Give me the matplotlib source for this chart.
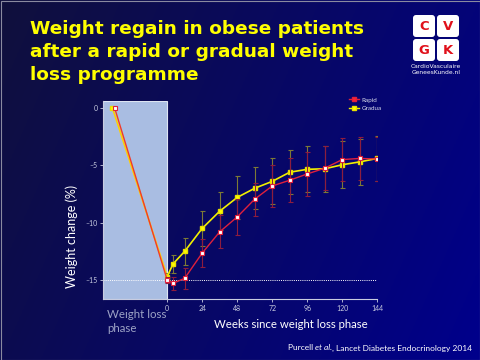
import numpy as np
import matplotlib.pyplot as plt
from matplotlib.patches import FancyBboxPatch, Rectangle
from matplotlib.lines import Line2D

# data
weeks = [0, 4, 12, 24, 36, 48, 60, 72, 84, 96, 108, 120, 132, 144]
gradual = [-14.7, -13.6, -12.5, -10.5, -9.0, -7.8, -7.0, -6.4, -5.6, -5.35, -5.3, -4.95, -4.7, -4.4]
gradual_err = [0.3, 0.8, 1.2, 1.5, 1.65, 1.9, 1.85, 2.0, 1.9, 2.0, 2.0, 2.05, 2.0, 2.0]
rapid = [-15.0, -15.3, -14.85, -12.65, -10.8, -9.5, -7.95, -6.8, -6.3, -5.75, -5.25, -4.5, -4.4, -4.45]
rapid_err = [0.3, 0.55, 0.9, 1.2, 1.45, 1.6, 1.45, 1.85, 1.9, 1.9, 1.9, 1.9, 1.85, 1.9]

# weight loss phase drawn before week 0 (start -> end)
pre_gradual_x = [-37.5, 0]
pre_gradual_y = [0, -14.7]
pre_rapid_x = [-36, 0]
pre_rapid_y = [0, -15.0]

xticks = [0, 24, 48, 72, 96, 120, 144]
yticks = [0, -5, -10, -15]
ytick_labels = ['0', '\u20135', '\u201310', '\u201315']

title_lines = ['Weight regain in obese patients',
               'after a rapid or gradual weight',
               'loss programme']

W, H = 480, 360
fig = plt.figure(figsize=(4.8, 3.6), dpi=100)

# background gradient
bg = fig.add_axes([0, 0, 1, 1], zorder=-10)
gx = np.linspace(0, 1, 200)
gy = np.linspace(0, 1, 150)
GX, GY = np.meshgrid(gx, gy)
t = np.clip(0.75 * GX + 0.25 * GY, 0, 1)
c0 = np.array([0x10, 0x10, 0x3c]) / 255
c1 = np.array([0x00, 0x00, 0x8c]) / 255
img = c0[None, None, :] * (1 - t[..., None]) + c1[None, None, :] * t[..., None]
bg.imshow(img, extent=[0, W, H, 0], aspect='auto')
bg.set_xlim(0, W)
bg.set_ylim(H, 0)
bg.axis('off')
bg.add_patch(Rectangle((0.5, 0.5), W - 1, H - 1, fill=False, ec='#8a8aa0', lw=0.8))

# title
for i, line in enumerate(title_lines):
    bg.text(30, 34 + 23 * i, line, color='#ffff00', fontsize=13.3, fontweight='bold',
            family='DejaVu Sans', va='baseline', ha='left')

# logo
for (lx, ly, letter) in [(413, 15, 'C'), (437, 15, 'V'), (413, 39, 'G'), (437, 39, 'K')]:
    bg.add_patch(FancyBboxPatch((lx, ly), 22, 22, boxstyle='round,pad=0,rounding_size=3',
                                fc='white', ec='none'))
    bg.text(lx + 11, ly + 11.5, letter, color='#e0101a', fontsize=9.5, fontweight='bold',
            ha='center', va='center', family='DejaVu Sans')
bg.text(436, 66, 'CardioVasculaire', color='white', fontsize=4.3, ha='center', va='center',
        family='Liberation Sans Narrow')
bg.text(436, 72, 'GeneesKunde.nl', color='white', fontsize=4.3, ha='center', va='center',
        family='Liberation Sans Narrow')

# main axes
ax = fig.add_axes([103 / W, 1 - 299 / H, (377.3 - 103) / W, (299 - 101) / H])
ax.patch.set_alpha(0)
ax.set_xlim(-44, 144)
ax.set_ylim(-16.66, 0.61)

ax.axvspan(-44, 0, fc='#a9bde2', ec='#dde4f2', lw=0.8, zorder=1)
ax.hlines(-15, -44, 144, colors='white', linestyles=(0, (1, 1.2)), lw=0.7, zorder=2)

# gradual
ax.plot(pre_gradual_x, pre_gradual_y, color='#ffd000', lw=1.2, zorder=3)
ax.errorbar(weeks, gradual, yerr=gradual_err, fmt='none', ecolor='#7d7a35', elinewidth=0.8,
            capsize=1.8, capthick=0.8, zorder=3)
ax.plot(weeks, gradual, color='#f2f000', lw=1.2, marker='s', ms=3.4, mfc='#ffff00',
        mec='#e8e000', zorder=4)
ax.plot(pre_gradual_x[0], pre_gradual_y[0], 's', ms=3.4, mfc='#ffff00', mec='#e8e000', zorder=4)

# rapid
ax.plot(pre_rapid_x, pre_rapid_y, color='#f03a2a', lw=1.0, zorder=5)
ax.errorbar(weeks, rapid, yerr=rapid_err, fmt='none', ecolor='#8e1c3e', elinewidth=0.8,
            capsize=1.8, capthick=0.8, zorder=5)
ax.plot(weeks, rapid, color='#e0203c', lw=1.0, marker='s', ms=3.4, mfc='white',
        mec='#e0203c', mew=0.8, zorder=6)
ax.plot(pre_rapid_x[0], pre_rapid_y[0], 's', ms=3.4, mfc='white', mec='#e0203c', mew=0.8, zorder=6)

for s in ['top', 'right']:
    ax.spines[s].set_visible(False)
for s in ['left', 'bottom']:
    ax.spines[s].set_color('#c8cce0')
    ax.spines[s].set_linewidth(0.8)

ax.set_xticks(xticks)
ax.set_yticks(yticks)
ax.set_yticklabels(ytick_labels)
ax.tick_params(axis='both', colors='#c8cce0', labelsize=5, length=2, width=0.6, pad=2)
for lab in ax.get_xticklabels() + ax.get_yticklabels():
    lab.set_family('Lato')

handles = [Line2D([], [], color='#e0203c', marker='s', ms=3, mfc='#ff2030', mec='#e0203c', lw=1),
           Line2D([], [], color='#f2f000', marker='s', ms=3, mfc='#ffff00', mec='#e8e000', lw=1)]
leg = ax.legend(handles, ['Rapid', 'Gradua'], loc='upper left', bbox_to_anchor=(0.885, 1.035),
                frameon=False, fontsize=4.5, handlelength=1.6, handletextpad=0.4,
                labelspacing=0.5, borderpad=0)
for txt in leg.get_texts():
    txt.set_color('#d8dcec')
    txt.set_family('Lato')

# labels
bg.text(72, 236, 'Weight change (%)', color='white', fontsize=9, rotation=90,
        ha='center', va='center', family='Lato')
bg.text(291, 325, 'Weeks since weight loss phase', color='white', fontsize=8.2,
        ha='center', va='center', family='Lato')
bg.text(107, 315, 'Weight loss', color='#9da3c6', fontsize=8.3, ha='left', va='center',
        family='Lato')
bg.text(107, 329, 'phase', color='#9da3c6', fontsize=8.3, ha='left', va='center',
        family='Lato')

# citation: plain + italic + plain, placed right to left
renderer = fig.canvas.get_renderer()
x_right = 472
for piece, style in [(', Lancet Diabetes Endocrinology 2014', 'normal'), ('et al.', 'italic'),
                     ('Purcell ', 'normal')]:
    tt = bg.text(x_right, 348, piece, color='white', fontsize=6, ha='right', va='center',
                 family='Lato', style=style)
    bb = tt.get_window_extent(renderer)
    x_right -= bb.width

fig.savefig('out.png', dpi=100)
